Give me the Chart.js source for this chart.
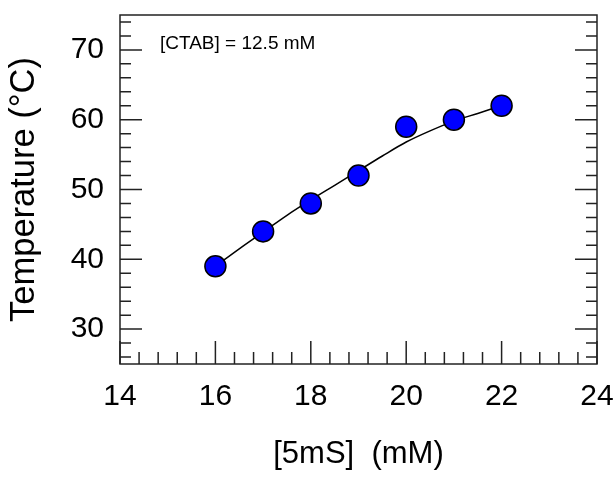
<!DOCTYPE html>
<html><head><meta charset="utf-8">
<script src="https://cdn.jsdelivr.net/npm/chart.js@4.4.0/dist/chart.umd.min.js"></script>
<style>html,body{margin:0;padding:0;background:#fff;}#wrap{width:615px;height:479px;}</style>
</head><body><div id="wrap"><canvas id="c" width="615" height="479"></canvas></div>
<script>
// Data
const surfactant = [16, 17, 18, 19, 20, 21, 22];          // [5mS] (mM)
const temperature = [39, 44, 48, 52, 59, 60, 62];          // Temperature (°C)
const fitX = [16, 16.5, 17, 17.5, 18, 18.5, 19, 19.5, 20, 20.5, 21, 21.5, 22];
const fitY = [39.0, 41.5, 43.9, 46.3, 48.5, 50.6, 52.7, 54.8, 56.8, 58.4, 59.8, 60.9, 62.0];
const xTickValues = [14, 16, 18, 20, 22, 24];
const yTickValues = [30, 40, 50, 60, 70];
const xRange = [14, 24];
const yRange = [25, 75];
const xMinorStep = 0.4;
const yMinorStep = 2;
const annotationText = '[CTAB] = 12.5 mM';

const FONT = "'Liberation Sans', Arial, Helvetica, sans-serif";

function minorValues(min, max, step) {
  const out = [];
  const n = Math.round((max - min) / step);
  for (let i = 0; i <= n; i++) out.push(+(min + i * step).toFixed(6));
  return out;
}

const framePlugin = {
  id: 'frame',
  beforeDatasetsDraw(chart) {
    const {ctx, chartArea: a, scales: {x, y}} = chart;
    ctx.save();
    ctx.strokeStyle = '#222';
    ctx.lineWidth = 1.5;
    ctx.strokeRect(a.left, a.top, a.right - a.left, a.bottom - a.top);
    ctx.beginPath();
    minorValues(xRange[0], xRange[1], xMinorStep).forEach(v => {
      const px = x.getPixelForValue(v);
      ctx.moveTo(px, a.bottom); ctx.lineTo(px, a.bottom - 12);
    });
    xTickValues.forEach(v => {
      const px = x.getPixelForValue(v);
      ctx.moveTo(px, a.bottom); ctx.lineTo(px, a.bottom - 23);
    });
    minorValues(26, 74, yMinorStep).forEach(v => {
      const py = y.getPixelForValue(v);
      ctx.moveTo(a.left, py); ctx.lineTo(a.left + 11, py);
      ctx.moveTo(a.right, py); ctx.lineTo(a.right - 11, py);
    });
    yTickValues.forEach(v => {
      const py = y.getPixelForValue(v);
      ctx.moveTo(a.left, py); ctx.lineTo(a.left + 22, py);
      ctx.moveTo(a.right, py); ctx.lineTo(a.right - 22, py);
    });
    ctx.stroke();
    ctx.restore();
  },
  afterDraw(chart) {
    const {ctx, chartArea: a} = chart;
    ctx.save();
    ctx.fillStyle = '#000';
    ctx.font = '19px ' + FONT;
    ctx.textAlign = 'left';
    ctx.textBaseline = 'middle';
    ctx.fillText(annotationText, a.left + 40, a.top + 29);
    ctx.restore();
  }
};

new Chart(document.getElementById('c'), {
  type: 'scatter',
  data: {
    datasets: [
      {
        type: 'line',
        data: fitX.map((v, i) => ({x: v, y: fitY[i]})),
        borderColor: '#000',
        borderWidth: 1.5,
        pointRadius: 0,
        fill: false,
        cubicInterpolationMode: 'monotone',
        order: 2
      },
      {
        data: surfactant.map((v, i) => ({x: v, y: temperature[i]})),
        backgroundColor: '#0000ff',
        borderColor: '#000',
        borderWidth: 1.5,
        pointRadius: 10.5,
        pointHoverRadius: 10.5,
        order: 1
      }
    ]
  },
  options: {
    responsive: false,
    devicePixelRatio: 1,
    animation: false,
    events: [],
    layout: {padding: {top: 15, right: 18, left: 0, bottom: 0}},
    plugins: {legend: {display: false}, tooltip: {enabled: false}, title: {display: false}},
    scales: {
      x: {
        type: 'linear',
        min: xRange[0], max: xRange[1],
        afterBuildTicks: s => { s.ticks = xTickValues.map(v => ({value: v})); },
        afterFit: s => { s.height = 115; s.paddingLeft = 0; s.paddingRight = 0; },
        grid: {display: false, drawTicks: false},
        border: {display: false},
        ticks: {font: {size: 30, family: FONT}, color: '#000', padding: 15, maxRotation: 0, autoSkip: false},
        title: {display: true, text: '[5mS]  (mM)', font: {size: 31, family: FONT}, color: '#000', padding: {top: 0, bottom: 6}}
      },
      y: {
        type: 'linear',
        min: yRange[0], max: yRange[1],
        afterBuildTicks: s => { s.ticks = yTickValues.map(v => ({value: v})); },
        afterFit: s => { s.width = 120; s.paddingTop = 0; s.paddingBottom = 0; },
        grid: {display: false, drawTicks: false},
        border: {display: false},
        ticks: {font: {size: 30, family: FONT}, color: '#000', padding: 16, autoSkip: false},
        title: {display: true, text: 'Temperature (°C)', font: {size: 34.5, family: FONT}, color: '#000', padding: {top: 4, bottom: 0}}
      }
    }
  },
  plugins: [framePlugin]
});
</script></body></html>
